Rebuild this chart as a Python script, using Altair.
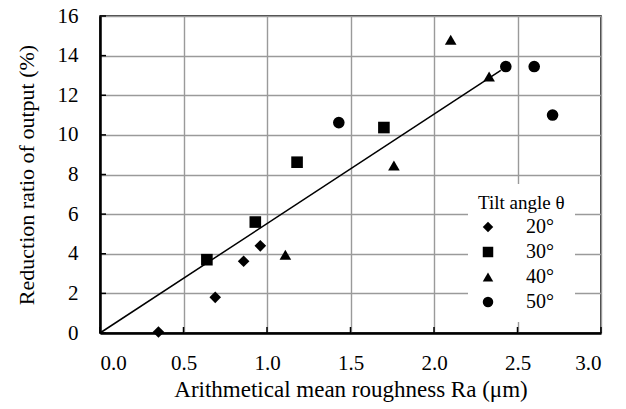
import altair as alt
import pandas as pd

# ---- data ----
angles = ["20°"] * 4 + ["30°"] * 4 + ["40°"] * 4 + ["50°"] * 4
ra = [0.35, 0.69, 0.86, 0.96,
      0.64, 0.93, 1.18, 1.70,
      1.11, 1.76, 2.10, 2.33,
      1.43, 2.43, 2.60, 2.71]
reduction = [0.05, 1.80, 3.62, 4.40,
             3.70, 5.60, 8.62, 10.37,
             3.95, 8.45, 14.80, 12.95,
             10.62, 13.45, 13.45, 11.00]
fit_x = [0.0, 2.40]
fit_y = [0.0, 13.25]
x_ticks = [0.0, 0.5, 1.0, 1.5, 2.0, 2.5, 3.0]
y_ticks = [0, 2, 4, 6, 8, 10, 12, 14, 16]
angle_order = ["20°", "30°", "40°", "50°"]
shapes = ["diamond", "square", "triangle-up", "circle"]

pts = pd.DataFrame({"Ra": ra, "Reduction": reduction, "Tilt": angles})
fit = pd.DataFrame({"Ra": fit_x, "Reduction": fit_y})
xt = pd.DataFrame({"t": x_ticks})
yt = pd.DataFrame({"t": y_ticks})

FONT = "Liberation Serif, Times New Roman, Times, serif"
W, H = 501, 317

xscale = alt.Scale(domain=[0, 3], nice=False, zero=False)
yscale = alt.Scale(domain=[0, 16], nice=False, zero=False)

x_axis = alt.Axis(values=x_ticks, format=".1f", title="Arithmetical mean roughness Ra (μm)",
                  labelPadding=19, titlePadding=5, labelOverlap=False, titleFontSize=23)
y_axis = alt.Axis(values=y_ticks, format="d", title="Reduction ratio of output (%)",
                  labelPadding=22, titlePadding=19, labelOverlap=False)

line = alt.Chart(fit).mark_line(color="black", strokeWidth=1.5).encode(
    x=alt.X("Ra:Q", scale=xscale, axis=x_axis),
    y=alt.Y("Reduction:Q", scale=yscale, axis=y_axis),
)

points = alt.Chart(pts).mark_point(filled=True, opacity=1, size=135, color="black").encode(
    x=alt.X("Ra:Q", scale=xscale, axis=x_axis),
    y=alt.Y("Reduction:Q", scale=yscale, axis=y_axis),
    shape=alt.Shape("Tilt:N", scale=alt.Scale(domain=angle_order, range=shapes),
                    legend=alt.Legend(title="Tilt angle θ", orient="none",
                                      legendX=368, legendY=168)),
)

xticks = alt.Chart(xt).mark_rule(color="black", strokeWidth=1.5).encode(
    x=alt.X("t:Q", scale=xscale, axis=x_axis), y=alt.value(H), y2=alt.value(H - 6)
)
yticks = alt.Chart(yt).mark_rule(color="black", strokeWidth=1.5).encode(
    y=alt.Y("t:Q", scale=yscale, axis=y_axis), x=alt.value(0), x2=alt.value(6)
)

chart = alt.layer(line, xticks, yticks, points).properties(
    width=W, height=H,
    autosize=alt.AutoSizeParams(type="none"),
    padding={"left": 100, "top": 16, "right": 25, "bottom": 76},
).configure_view(
    stroke="black", strokeWidth=1.5
).configure_axis(
    labelFont=FONT, titleFont=FONT, labelFontSize=21, titleFontSize=22,
    labelColor="black", titleColor="black", titleFontWeight="normal",
    grid=True, gridColor="#9a9a9a", gridWidth=1.4,
    domainColor="black", domainWidth=2.5, ticks=False,
).configure_legend(
    titleFont=FONT, labelFont=FONT, titleFontSize=19, labelFontSize=20,
    titleFontWeight="normal", titleColor="black", labelColor="black",
    fillColor="white", padding=10, symbolSize=110, symbolFillColor="black",
    symbolStrokeColor="black", symbolType="circle", labelOffset=28, rowPadding=5,
    titlePadding=4,
)

chart.save("out.html", embed_options={"renderer": "svg", "actions": False})
